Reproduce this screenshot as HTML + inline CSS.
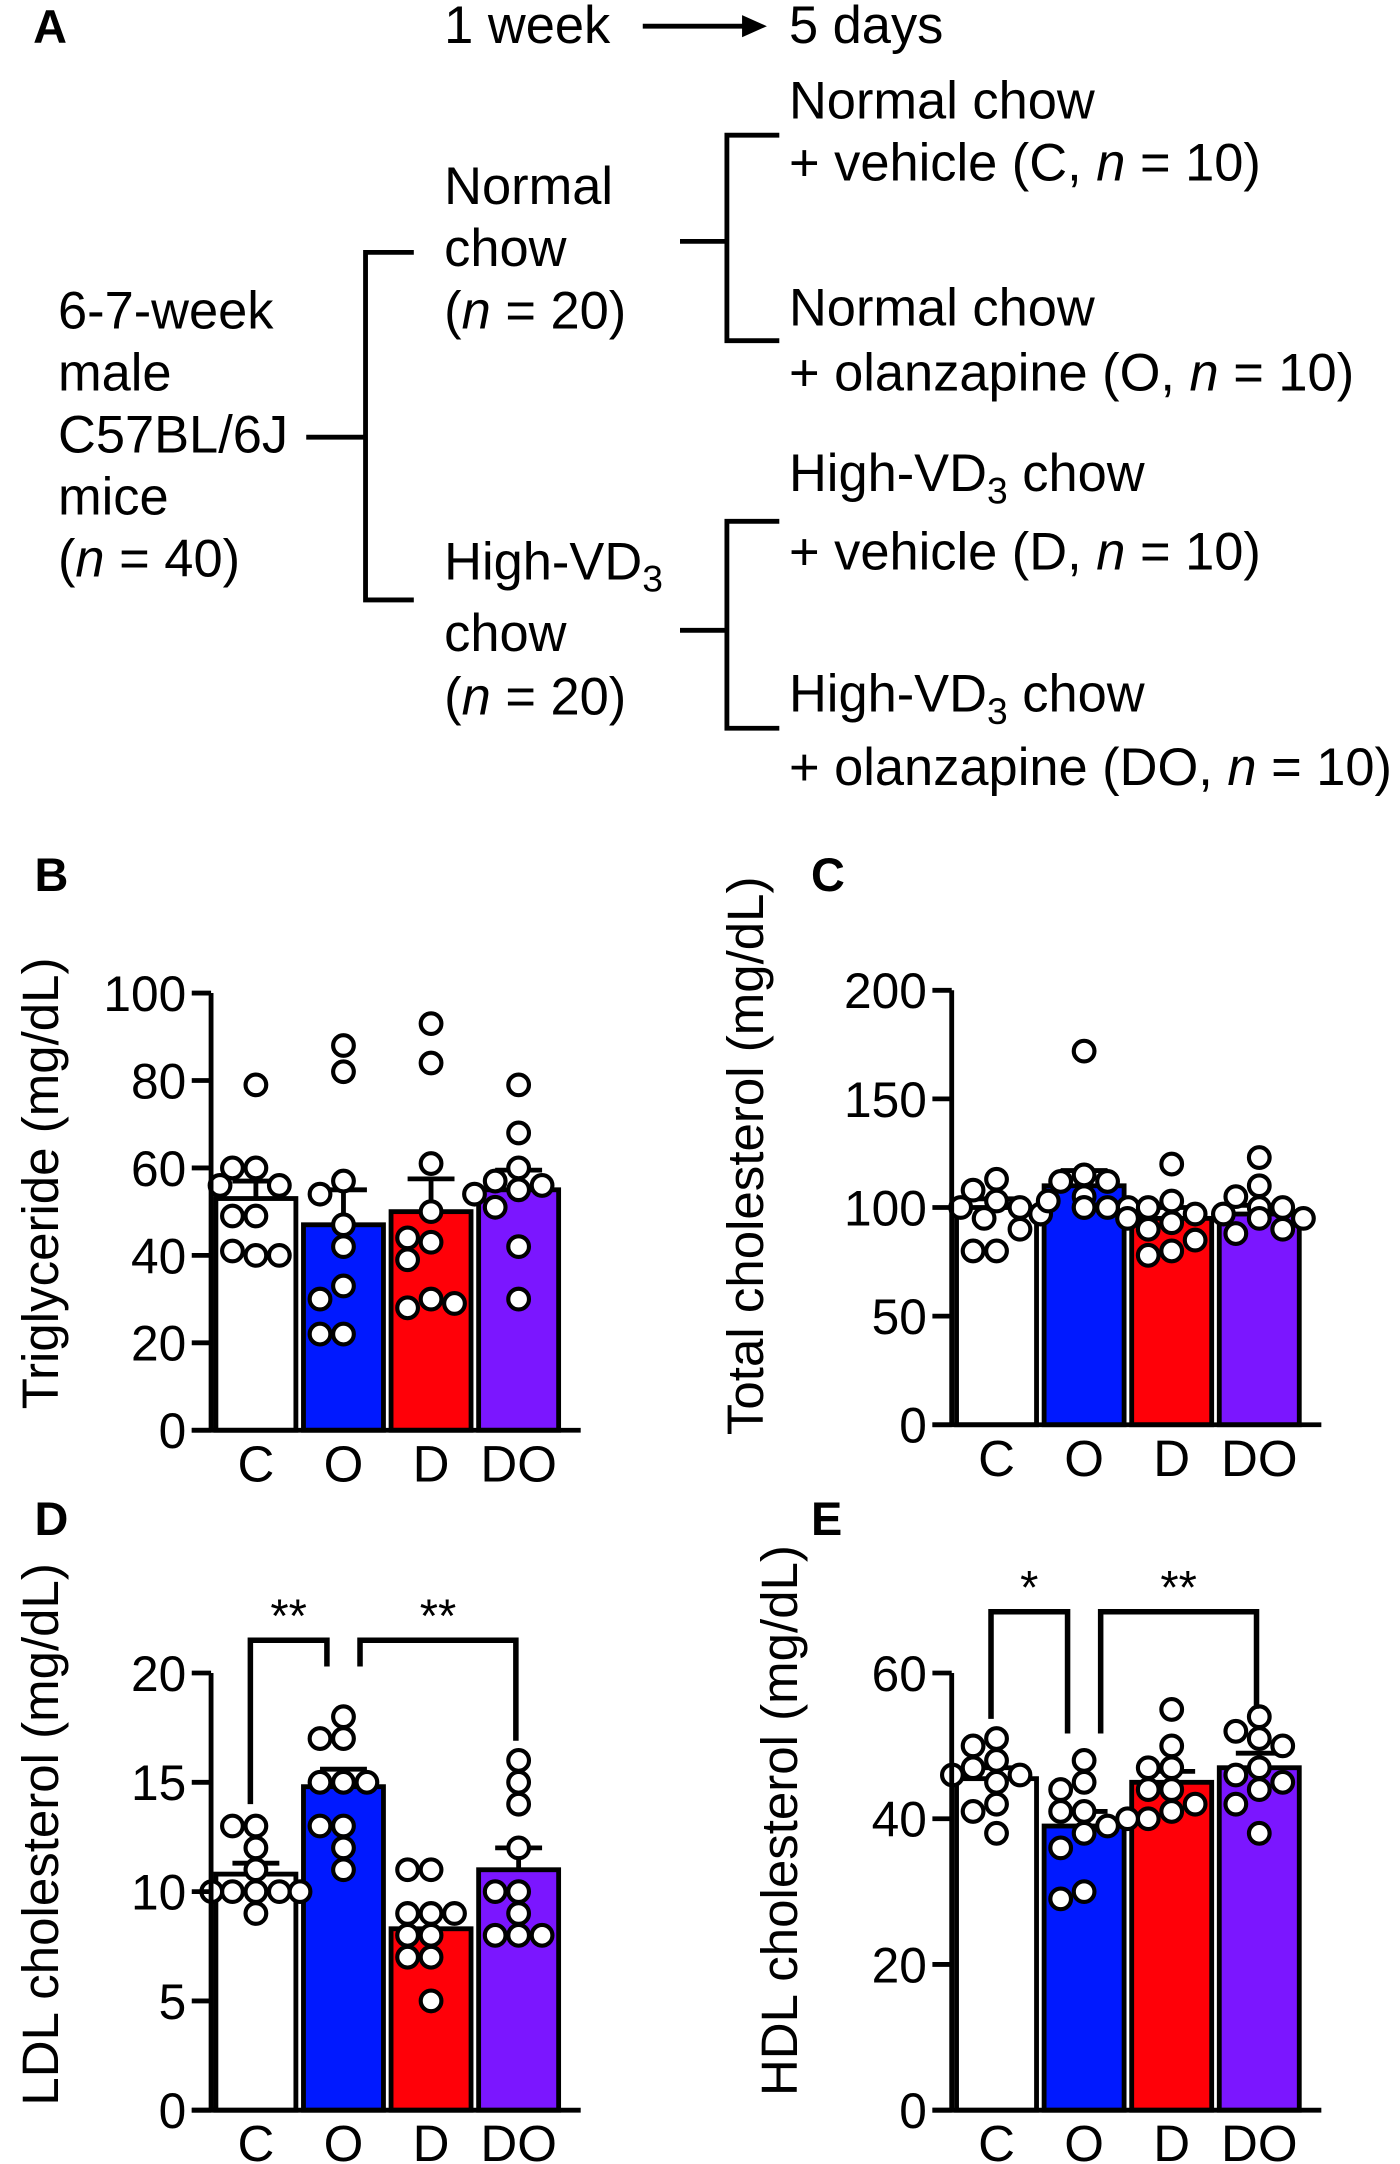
<!DOCTYPE html>
<html><head><meta charset="utf-8"><style>
html,body{margin:0;padding:0;background:#fff}
svg{display:block}
text{font-family:"Liberation Sans",Arial,sans-serif;fill:#000}
</style></head><body>
<svg id="fig" width="1400" height="2164" viewBox="0 0 1015 1569" xmlns="http://www.w3.org/2000/svg">
<g id="panelA" font-size="38">
<text x="24" y="31" font-weight="bold" font-size="34" fill="#222">A</text>
<text x="322" y="31">1 week</text>
<line x1="466" y1="19" x2="540" y2="19" stroke="#000" stroke-width="3.5"/>
<polygon points="538,11 556,19 538,27" fill="#000"/>
<text x="572" y="31">5 days</text>
<text x="42" y="238">6-7-week</text>
<text x="42" y="283">male</text>
<text x="42" y="328">C57BL/6J</text>
<text x="42" y="373">mice</text>
<text x="42" y="418">(<tspan font-style="italic">n</tspan> = 40)</text>
<g stroke="#000" stroke-width="3.5" fill="none">
<line x1="222" y1="317" x2="265" y2="317"/>
<polyline points="300,183 265,183 265,435 300,435"/>
<line x1="493" y1="175" x2="527" y2="175"/>
<polyline points="565,98 527,98 527,247 565,247"/>
<line x1="493" y1="457" x2="527" y2="457"/>
<polyline points="565,378 527,378 527,528 565,528"/>
</g>
<text x="322" y="148">Normal</text>
<text x="322" y="193">chow</text>
<text x="322" y="238">(<tspan font-style="italic">n</tspan> = 20)</text>
<text x="322" y="420">High-VD<tspan font-size="27" dy="9">3</tspan></text>
<text x="322" y="472">chow</text>
<text x="322" y="518">(<tspan font-style="italic">n</tspan> = 20)</text>
<text x="572" y="86">Normal chow</text>
<text x="572" y="131">+ vehicle (C, <tspan font-style="italic">n</tspan> = 10)</text>
<text x="572" y="236">Normal chow</text>
<text x="572" y="283">+ olanzapine (O, <tspan font-style="italic">n</tspan> = 10)</text>
<text x="572" y="356">High-VD<tspan font-size="27" dy="9">3</tspan><tspan dy="-9"> chow</tspan></text>
<text x="572" y="413">+ vehicle (D, <tspan font-style="italic">n</tspan> = 10)</text>
<text x="572" y="516">High-VD<tspan font-size="27" dy="9">3</tspan><tspan dy="-9"> chow</tspan></text>
<text x="572" y="569">+ olanzapine (DO, <tspan font-style="italic">n</tspan> = 10)</text>
</g>
</svg>
<script>
const categories = ["C","O","D","DO"];
const colors = ["#ffffff","#0019ff","#ff0008","#7b16ff"];
// Panel B: triglyceride
const tgMeans = [53, 47, 50, 55];
const tgSem = [4, 8, 7.5, 4.5];
const tgPoints = [[79,60,60,56,56,49,49,40,41,40],[88,82,57,54,47,42,33,30,22,22],[93,84,61,50,43,44,39,30,28,29],[79,68,60,57,55,56,54,51,42,30]];
const tgTicks = [0,20,40,60,80,100];
// Panel C: total cholesterol
const tcMeans = [100, 110, 95, 97];
const tcSem = [4, 7, 5, 4];
const tcPoints = [[113,108,103,100,100,97,95,90,80,80],[172,115,112,112,105,103,100,100,100,100],[120,103,100,97,95,93,90,85,80,78],[123,110,105,100,100,97,95,95,90,88]];
const tcTicks = [0,50,100,150,200];
// Panel D: LDL
const ldlMeans = [10.8, 14.8, 8.3, 11];
const ldlSem = [0.5, 0.8, 0.6, 1];
const ldlPoints = [[13,13,12,11,10,10,10,10,10,9],[18,17,17,15,15,13,13,12,11,15],[11,11,9,9,9,8,8,7,7,5],[16,15,14,12,10,10,9,8,8,8]];
const ldlTicks = [0,5,10,15,20];
const ldlSig = [{a:0,b:1,top:21.5,ya:14,yb:20.3,label:"**"},{a:1,b:3,top:21.5,yb:16.9,ya:20.3,label:"**"}];
// Panel E: HDL
const hdlMeans = [45.5, 39, 45, 47];
const hdlSem = [1.5, 2, 1.5, 2];
const hdlPoints = [[51,50,48,47,46,46,45,42,41,38],[48,45,44,41,41,39,38,36,30,29],[55,50,47,47,44,44,42,41,40,40],[54,52,51,50,47,46,44,45,42,38]];
const hdlTicks = [0,20,40,60];
const hdlSig = [{a:0,b:1,top:68.4,ya:53.7,yb:51.7,label:"*"},{a:1,b:3,top:68.4,ya:51.7,yb:55.1,label:"**"}];

const NS="http://www.w3.org/2000/svg";
const svg=document.getElementById('fig');
function mk(tag,attrs,parent){const e=document.createElementNS(NS,tag);for(const k in attrs)e.setAttribute(k,attrs[k]);(parent||svg).appendChild(e);return e;}

function panel(o){
  const g=mk('g',{});
  
  
  const ax=o.ax, y0=o.y0, ytop=o.ytop, ymax=o.ticks[o.ticks.length-1];
  const Y=v=>y0-(v/ymax)*(y0-ytop);
  const bw=61, gap=2.5, start=ax+2;
  const X=i=>start+i*(bw+gap)+bw/2;
  const lab=mk('text',{x:o.lx,y:o.ly,'font-weight':'bold','font-size':34,fill:'#222'},g);
  lab.textContent=o.letter;
  
  
  const yt=mk('text',{x:0,y:0,'font-size':37,'text-anchor':'middle',transform:`translate(${o.tx},${o.ty}) rotate(-90)`},g);
  yt.textContent=o.title;
  
  
  o.means.forEach((m,i)=>{
    const r=mk('rect',{x:X(i)-bw/2+1.5,y:Y(m),width:bw-3,height:y0-Y(m),fill:colors[i],stroke:'#000','stroke-width':3.5},g);
    
    
    const e=mk('path',{d:`M${X(i)},${Y(m)} V${Y(m+o.sem[i])} M${X(i)-17},${Y(m+o.sem[i])} H${X(i)+17}`,stroke:'#000','stroke-width':3.5,fill:'none'},g);
    
    
  });
  const cand=[0,-17,17,-26,26,-9,9,-32,32];
  o.points.forEach((pts,i)=>{
    const placed=[];
    pts.forEach(v=>{
      const py=Y(v);let dx=0;
      for(const c of cand){if(placed.every(p=>Math.hypot(p[0]-c,p[1]-py)>=15)){dx=c;break;}}
      placed.push([dx,py]);
      const c=mk('circle',{cx:X(i)+dx,cy:py,r:7.5,fill:'#fff',stroke:'#000','stroke-width':3},g);
      
      
    });
  });
  const axl=mk('path',{d:`M${ax},${ytop} V${y0} M${ax-14},${y0} H${ax+268}`,stroke:'#000','stroke-width':3.5,fill:'none'},g);
  
  
  o.ticks.forEach(t=>{
    const tk=mk('line',{x1:ax-14,x2:ax,y1:Y(t),y2:Y(t),stroke:'#000','stroke-width':3.5},g);
    
    
    const tl=mk('text',{x:ax-18,y:Y(t)+13,'font-size':36,'text-anchor':'end'},g);
    tl.textContent=t;
    
    
  });
  categories.forEach((c,i)=>{
    const t=mk('text',{x:X(i),y:y0+37,'font-size':37,'text-anchor':'middle'},g);
    t.textContent=c;
    
    
  });
  (o.sig||[]).forEach(s=>{
    const xa=X(s.a)-(s.a===1?-12:4), xb=X(s.b)-(s.b===1?12:2);
    const p=mk('path',{d:`M${xa},${Y(s.ya)} V${Y(s.top)} H${xb} V${Y(s.yb)}`,stroke:'#000','stroke-width':4,fill:'none'},g);
    
    
    const t=mk('text',{x:(xa+xb)/2,y:Y(s.top)-6,'font-size':34,'text-anchor':'middle'},g);
    t.textContent=s.label;
    
    
  });
}
panel({name:'triglyceride-chart',letter:'B',lx:25,ly:646,ax:153,y0:1037,ytop:720,ticks:tgTicks,means:tgMeans,sem:tgSem,points:tgPoints,title:'Triglyceride (mg/dL)',tx:42,ty:858});
panel({name:'total-cholesterol-chart',letter:'C',lx:588,ly:646,ax:690,y0:1033,ytop:718,ticks:tcTicks,means:tcMeans,sem:tcSem,points:tcPoints,title:'Total cholesterol (mg/dL)',tx:553,ty:838});
panel({name:'ldl-cholesterol-chart',letter:'D',lx:25,ly:1113,ax:153,y0:1530,ytop:1213,ticks:ldlTicks,means:ldlMeans,sem:ldlSem,points:ldlPoints,title:'LDL cholesterol (mg/dL)',tx:42,ty:1330,sig:ldlSig});
panel({name:'hdl-cholesterol-chart',letter:'E',lx:588,ly:1113,ax:690,y0:1530,ytop:1213,ticks:hdlTicks,means:hdlMeans,sem:hdlSem,points:hdlPoints,title:'HDL cholesterol (mg/dL)',tx:578,ty:1320,sig:hdlSig});
</script>
</body></html>
